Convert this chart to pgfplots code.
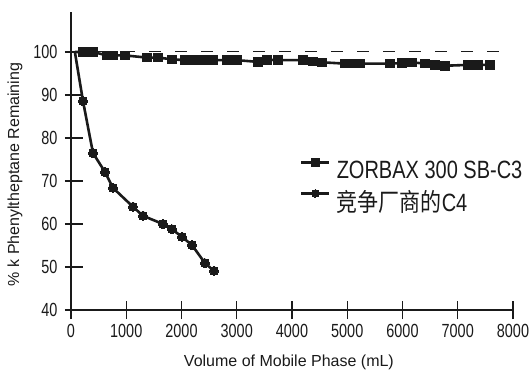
\documentclass[border=0pt]{standalone}
\usepackage{pgfplots}
\pgfplotsset{compat=1.18}
\usepackage{fontspec}
\setmainfont{Liberation Sans}
\newfontfamily\condfont[FakeStretch=0.8]{Liberation Sans}
\newfontfamily\tickfont[FakeStretch=0.76]{Liberation Sans}
\newfontfamily\cjk[FakeStretch=0.84]{Noto Sans CJK SC}
\definecolor{ink}{HTML}{1A1A1A}
\begin{document}
\begin{tikzpicture}
\path[use as bounding box] (-71pt,-60pt) rectangle (461pt,310pt);
\begin{axis}[
  scale only axis,
  width=442pt, height=298pt,
  xmin=0, xmax=8000, ymin=40, ymax=109.3,
  axis x line=bottom, axis y line=left,
  axis line style={-, line width=1.6pt, ink},
  xtick={0,1000,...,8000},
  ytick={40,50,...,100},
  tick align=center,
  major tick length=18pt,
  x tick style={line width=1.4pt, ink},
  y tick style={line width=1.4pt, ink, xshift=3pt},
  /pgf/number format/assume math mode=true,
  /pgf/number format/1000 sep={},
  ticklabel style={font=\tickfont\fontsize{19}{19}\selectfont, text=ink},
  yticklabel style={anchor=east, xshift=-1pt},
  xticklabel style={anchor=north, yshift=-2pt},
  xlabel={Volume of Mobile Phase (mL)},
  ylabel={\% k Phenyltheptane Remaining},
  label style={font=\fontsize{16}{16}\selectfont, text=ink},
  xlabel style={at={(axis description cs:0.493,0)}, anchor=center, yshift=-52pt},
  ylabel style={at={(axis description cs:0,0.455)}, anchor=center, yshift=56pt},
  legend style={at={(axis description cs:0.518,0.508)}, anchor=north west,
    draw=none, fill=none, font=\condfont\fontsize{25}{26}\selectfont, text=ink,
    row sep=6pt, inner sep=0pt,
    /tikz/every odd column/.append style={column sep=4pt}},
  legend cell align=left,
  legend image code/.code={\draw[#1, mark size=3.8pt, mark repeat=2, mark phase=2, yshift=8pt]
     plot coordinates {(0pt,0pt) (14pt,0pt) (28pt,0pt)};},
  clip=false,
]
\addplot[forget plot, ink, line width=1pt, dash pattern=on 12pt off 14pt] coordinates {(0,100) (8000,100)};
\addplot[ink, line width=2.6pt, mark=square*, mark size=4.3pt, mark phase=2,
  mark options={solid, line width=0pt}] coordinates {
(70,100) (217,100) (398,100) (652,99.2) (760,99.2) (977,99.2) (1376,98.7) (1575,98.7)
(1828,98.3) (2063,98.1) (2190,98.1) (2317,98.1) (2443,98.1) (2570,98.1) (2824,98.1)
(3005,98.1) (3385,97.7) (3548,98.2) (3747,98.1) (4199,98.1) (4380,97.8) (4543,97.6)
(4959,97.3) (5086,97.3) (5231,97.3) (5774,97.3) (5991,97.4) (6172,97.6) (6407,97.3)
(6588,97.0) (6769,96.8) (7186,97.0) (7367,97.0) (7584,97.0)};
\addlegendentry{ZORBAX 300 SB-C3}
\addplot[ink, line width=2.6pt, mark=*, mark size=4.5pt, mark phase=2,
  mark options={solid, line width=0pt}] coordinates {
(70,100) (217,88.6) (398,76.5) (615,72.1) (760,68.4) (1122,64.0) (1303,61.9)
(1665,60.0) (1828,58.8) (2009,57.0) (2190,55.1) (2425,50.9) (2588,49.1)};
\addlegendentry{{\cjk 竞争厂商的}C4}
\end{axis}
\end{tikzpicture}
\end{document}
